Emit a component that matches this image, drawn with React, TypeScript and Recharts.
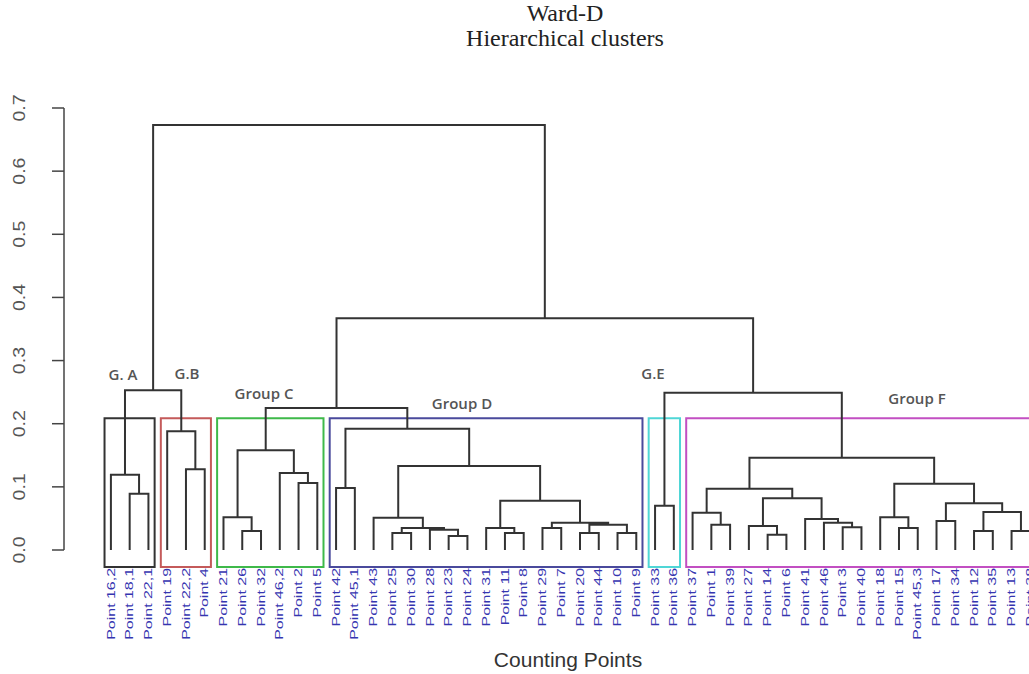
import React from "react"
import { ComposedChart, Line, XAxis, YAxis, ReferenceArea } from "recharts"

// leaves in dendrogram order
const leafLabels = [
  "Point 16,2", "Point 18,1", "Point 22,1",
  "Point 19", "Point 22,2", "Point 4",
  "Point 21", "Point 26", "Point 32", "Point 46,2", "Point 2", "Point 5",
  "Point 42", "Point 45,1", "Point 43", "Point 25", "Point 30", "Point 28", "Point 23", "Point 24",
  "Point 31", "Point 11", "Point 8", "Point 29", "Point 7", "Point 20", "Point 44", "Point 10", "Point 9",
  "Point 33", "Point 36",
  "Point 37", "Point 1", "Point 39", "Point 27", "Point 14", "Point 6", "Point 41", "Point 46", "Point 3",
  "Point 40", "Point 18", "Point 15", "Point 45,3", "Point 17", "Point 34", "Point 12", "Point 35", "Point 13", "Point 38",
]

// merges, R style: negative = leaf (-(index+1)), positive = earlier merge number
const mergeLeft = [
  -2, -1, -5, -4, 2, -8, -7, -11, -10, 7,
  -13, -16, -19, -18, 12, -15, -22, -21, -24, -26,
  -28, 20, 19, 18, 16, 11, 10, -30, -33, -32,
  -36, -35, -40, -39, -38, 32, 30, -43, -42, -45,
  -47, -49, 41, 40, 39, 37, 28, 27, 5,
]
const mergeRight = [
  -3, 1, -6, 3, 4, -9, 6, -12, 8, 9,
  -14, -17, -20, 13, 14, 15, -23, 17, -25, -27,
  -29, 21, 22, 23, 24, 25, 26, -31, -34, 29,
  -37, 31, -41, 33, 34, 35, 36, -44, 38, -46,
  -48, -50, 42, 43, 44, 45, 46, 47, 48,
]
const mergeHeight = [
  0.089, 0.119, 0.128, 0.188, 0.253, 0.030, 0.052, 0.106, 0.122, 0.158,
  0.098, 0.027, 0.022, 0.032, 0.035, 0.051, 0.027, 0.035, 0.035, 0.027,
  0.027, 0.040, 0.043, 0.078, 0.133, 0.192, 0.225, 0.070, 0.040, 0.059,
  0.024, 0.038, 0.036, 0.043, 0.049, 0.082, 0.097, 0.035, 0.052, 0.046,
  0.030, 0.030, 0.060, 0.074, 0.105, 0.146, 0.249, 0.367, 0.673,
]

// rect.hclust(k = 6)
const groupNames = ["G. A", "G.B", "Group C", "Group D", "G.E", "Group F"]
const groupFirst = [0, 3, 6, 12, 29, 31]
const groupLast = [2, 5, 11, 28, 30, 49]
const boxTop = 0.2085
const boxBottom = -0.027

const yTicks = [0, 0.1, 0.2, 0.3, 0.4, 0.5, 0.6, 0.7]

const groupColors = ["#333333", "#c45a5a", "#3fb94a", "#4a4a9c", "#4fd6d6", "#c24fc2"]
const groupLabelPos = [
  [123, 374], [187, 373], [264, 393], [462, 403], [653, 373], [917, 398],
]

const leafIdx = leafLabels.map((_, i) => i)

// build the U shaped links
const nodeX: number[] = []
const nodeY: number[] = []
const pos = (ref: number) => (ref < 0 ? { x: -ref - 1, y: 0 } : { x: nodeX[ref - 1], y: nodeY[ref - 1] })
const segments: { x: number; y: number | null }[] = []
mergeLeft.forEach((l, k) => {
  const a = pos(l)
  const b = pos(mergeRight[k])
  const h = mergeHeight[k]
  nodeX.push((a.x + b.x) / 2)
  nodeY.push(h)
  segments.push({ x: a.x, y: a.y }, { x: a.x, y: h }, { x: b.x, y: h }, { x: b.x, y: b.y }, { x: b.x, y: null })
})

const LeafTick = (props: any) => {
  const { x, y, payload } = props
  return (
    <text
      transform={`translate(${x},${y}) rotate(-90) scale(1.45,1)`}
      textAnchor="end"
      dominantBaseline="central"
      fontSize={11}
      fontFamily="'Liberation Sans', Arial, sans-serif"
      fill="#3535b0"
    >
      {leafLabels[payload.value]}
    </text>
  )
}

const YTick = (props: any) => {
  const { x, y, payload } = props
  return (
    <text
      transform={`translate(${x - 31},${y}) rotate(-90) scale(1.15,1)`}
      textAnchor="middle"
      dominantBaseline="central"
      fontSize={17}
      fontFamily="'Liberation Sans', Arial, sans-serif"
      fill="#555"
    >
      {Number(payload.value).toFixed(1)}
    </text>
  )
}

export default function App() {
  return (
    <div style={{ position: "relative", width: 1029, height: 674, overflow: "hidden", background: "#fff" }}>
      <style>{`body{margin:0;overflow:hidden}`}</style>
      <div style={{ position: "absolute", left: 0, width: 1130, top: 1, textAlign: "center", fontFamily: "'Liberation Serif', serif", fontSize: 24, color: "#222", lineHeight: "25px" }}>
        Ward-D<br />Hierarchical clusters
      </div>
      <ComposedChart width={1096} height={674} data={segments} margin={{ top: 108, right: 0, bottom: 64, left: 0 }}>
        <XAxis
          type="number"
          dataKey="x"
          domain={[-2.5, 52.5]}
          allowDataOverflow
          ticks={leafIdx}
          interval={0}
          axisLine={false}
          tickLine={false}
          tickSize={0}
          tickMargin={18}
          height={60}
          tick={<LeafTick />}
        />
        <YAxis
          type="number"
          domain={[0, 0.7]}
          ticks={yTicks}
          width={64}
          tickSize={12}
          axisLine={{ stroke: "#444", strokeWidth: 1.5 }}
          tickLine={{ stroke: "#444", strokeWidth: 1.5 }}
          tick={<YTick />}
        />
        {groupNames.map((g, i) => (
          <ReferenceArea
            key={g}
            x1={groupFirst[i] - 0.34}
            x2={groupLast[i] + 0.33}
            y1={boxBottom}
            y2={boxTop}
            ifOverflow="visible"
            fill="none"
            fillOpacity={0}
            stroke={groupColors[i]}
            strokeWidth={2}
          />
        ))}
        <Line
          type="linear"
          dataKey="y"
          stroke="#333"
          strokeWidth={2}
          dot={false}
          connectNulls={false}
          isAnimationActive={false}
        />
      </ComposedChart>
      {groupNames.map((g, i) => (
        <div
          key={g}
          style={{
            position: "absolute",
            left: groupLabelPos[i][0],
            top: groupLabelPos[i][1],
            transform: "translate(-50%,-50%)",
            fontFamily: "'Open Sans', sans-serif",
            fontWeight: 600,
            fontSize: 15,
            color: "#555",
            whiteSpace: "nowrap",
          }}
        >
          {g}
        </div>
      ))}
      <div style={{ position: "absolute", left: 568, top: 660, transform: "translate(-50%,-50%)", fontFamily: "'Liberation Sans', Arial, sans-serif", fontSize: 21, color: "#333", whiteSpace: "nowrap" }}>
        Counting Points
      </div>
    </div>
  )
}
